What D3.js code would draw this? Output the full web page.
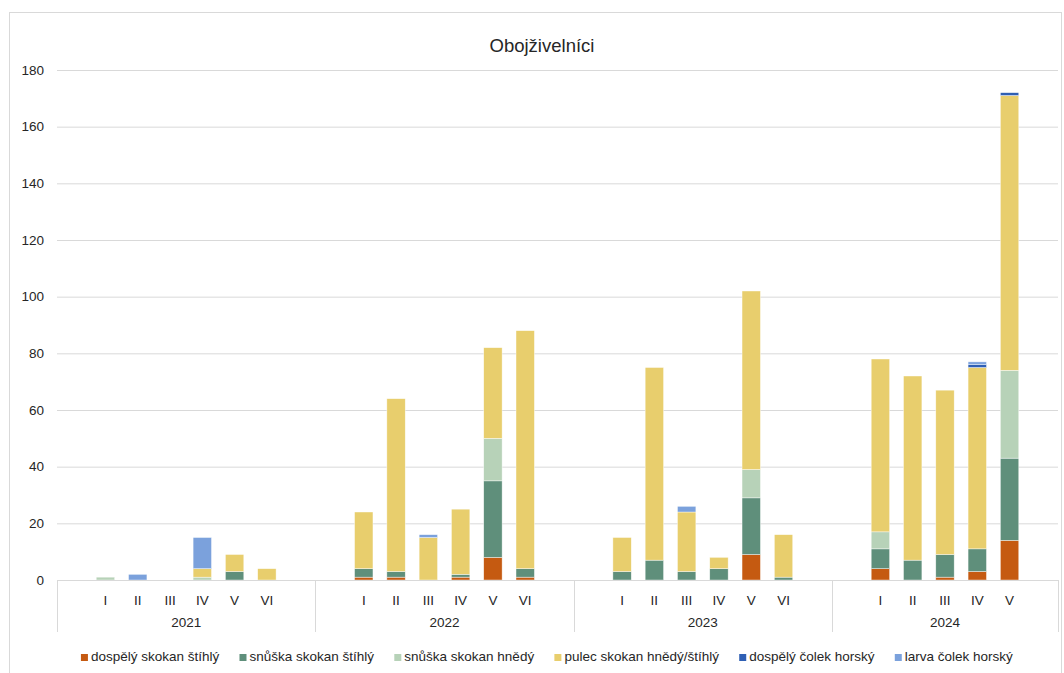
<!DOCTYPE html>
<html>
<head>
<meta charset="utf-8">
<script src="https://cdn.jsdelivr.net/npm/d3@7"></script>
<style>
  html, body { margin: 0; padding: 0; background: #fff; }
  svg { display: block; font-family: "Liberation Sans", Arial, sans-serif; }
  svg text { fill: #262626; }
</style>
</head>
<body>
<svg id="chart" width="1064" height="673"></svg>
<script>
// Survey counts of amphibians per visit (months in Roman numerals) and year
const years = ["2021", "2022", "2023", "2024"];
const months = [
  ["I", "II", "III", "IV", "V", "VI"],
  ["I", "II", "III", "IV", "V", "VI"],
  ["I", "II", "III", "IV", "V", "VI"],
  ["I", "II", "III", "IV", "V"]
];
const yTicks = [0, 20, 40, 60, 80, 100, 120, 140, 160, 180];

const seriesNames = [
  "dospělý skokan štíhlý",
  "snůška skokan štíhlý",
  "snůška skokan hnědý",
  "pulec skokan hnědý/štíhlý",
  "dospělý čolek horský",
  "larva čolek horský"
];
const seriesColors = ["#C55A11", "#5F8F7B", "#B7D2B8", "#E8CE6D", "#2F5FB4", "#7BA1DC"];

// one value per visit, in order 2021 I..VI, 2022 I..VI, 2023 I..VI, 2024 I..V
const dospelySkokanStihly = [0,0,0,0,0,0,  1,1,0,1,8,1,    0,0,0,0,9,0,    4,0,1,3,14];
const snuskaSkokanStihly  = [0,0,0,0,3,0,  3,2,0,1,27,3,   3,7,3,4,20,1,   7,7,8,8,29];
const snuskaSkokanHnedy   = [1,0,0,1,0,0,  0,0,0,0,15,0,   0,0,0,0,10,0,   6,0,0,0,31];
const pulecSkokan         = [0,0,0,3,6,4,  20,61,15,23,32,84, 12,68,21,4,63,15, 61,65,58,64,97];
const dospelyColekHorsky  = [0,0,0,0,0,0,  0,0,0,0,0,0,    0,0,0,0,0,0,    0,0,0,1,1];
const larvaColekHorsky    = [0,2,0,11,0,0, 0,0,1,0,0,0,    0,0,2,0,0,0,    0,0,0,1,0];

const seriesValues = [dospelySkokanStihly, snuskaSkokanStihly, snuskaSkokanHnedy,
                      pulecSkokan, dospelyColekHorsky, larvaColekHorsky];

// Build rows: one per visit, with an empty slot before and after each year group
const rows = [];
const slots = [];
let idx = 0;
years.forEach((yr, yi) => {
  slots.push(yr + "|pre");
  months[yi].forEach(m => {
    const key = yr + "|" + m;
    slots.push(key);
    const row = { key, year: yr, month: m };
    seriesNames.forEach((s, si) => { row[s] = seriesValues[si][idx]; });
    rows.push(row);
    idx++;
  });
  slots.push(yr + "|post");
});

const svg = d3.select("#chart");
const plot = { left: 57, right: 1058, top: 70, bottom: 580 };

// outer chart frame
svg.append("rect")
  .attr("x", 9.5).attr("y", 12.5)
  .attr("width", 1052).attr("height", 668)
  .attr("fill", "#fff").attr("stroke", "#d9d9d9").attr("stroke-width", 1);

// title
svg.append("text")
  .attr("x", 542).attr("y", 52)
  .attr("text-anchor", "middle")
  .attr("font-size", 18.5)
  .text("Obojživelníci");

const x = d3.scaleBand().domain(slots).range([plot.left, plot.right]).paddingInner(0).paddingOuter(0);
const y = d3.scaleLinear().domain([0, 180]).range([plot.bottom, plot.top]);

// gridlines + y labels
const yAxis = d3.axisLeft(y).tickValues(yTicks).tickSize(-(plot.right - plot.left)).tickPadding(13);
const gy = svg.append("g").attr("transform", `translate(${plot.left},0)`).call(yAxis);
gy.select(".domain").remove();
gy.selectAll(".tick line").attr("stroke", "#d9d9d9").attr("stroke-width", 1);
gy.selectAll(".tick text").attr("font-size", 13.5)
  .attr("font-family", "'Liberation Sans', Arial, sans-serif");

// stacked bars
const stack = d3.stack().keys(seriesNames);
const layers = stack(rows);
const barW = x.bandwidth() * 0.57;

svg.append("g").selectAll("g")
  .data(layers)
  .join("g")
  .attr("fill", (d, i) => seriesColors[i])
  .selectAll("rect")
  .data(d => d.filter(p => p[1] - p[0] > 0))
  .join("rect")
  .attr("x", d => x(d.data.key) + (x.bandwidth() - barW) / 2)
  .attr("width", barW)
  .attr("y", d => y(d[1]))
  .attr("height", d => y(d[0]) - y(d[1]))
  .attr("stroke", "#fff").attr("stroke-width", 0.6).attr("stroke-opacity", 0.7);

// category axis: baseline, group separators, month and year labels
const axisG = svg.append("g");
axisG.append("line")
  .attr("x1", plot.left).attr("x2", plot.right)
  .attr("y1", plot.bottom + 0.5).attr("y2", plot.bottom + 0.5)
  .attr("stroke", "#d9d9d9");

const sepY2 = 632;
const boundaries = years.map(yr => x(yr + "|pre"));
boundaries.push(x(years[years.length - 1] + "|post") + x.bandwidth());
axisG.selectAll("line.sep")
  .data(boundaries)
  .join("line")
  .attr("class", "sep")
  .attr("x1", d => Math.round(d) + 0.5).attr("x2", d => Math.round(d) + 0.5)
  .attr("y1", plot.bottom).attr("y2", sepY2)
  .attr("stroke", "#d9d9d9");

axisG.selectAll("text.month")
  .data(rows)
  .join("text")
  .attr("class", "month")
  .attr("x", d => x(d.key) + x.bandwidth() / 2)
  .attr("y", 605)
  .attr("text-anchor", "middle")
  .attr("font-size", 13.5)
  .text(d => d.month);

axisG.selectAll("text.year")
  .data(years)
  .join("text")
  .attr("class", "year")
  .attr("x", (d, i) => (boundaries[i] + boundaries[i + 1]) / 2)
  .attr("y", 627)
  .attr("text-anchor", "middle")
  .attr("font-size", 13.5)
  .text(d => d);

// legend
const legend = svg.append("g").attr("transform", "translate(0,661)");
const items = legend.selectAll("g")
  .data(seriesNames)
  .join("g");
items.append("rect")
  .attr("width", 7).attr("height", 7)
  .attr("y", -7)
  .attr("fill", (d, i) => seriesColors[i]);
items.append("text")
  .attr("x", 10).attr("y", 0)
  .attr("font-size", 13.5)
  .text(d => d);

// lay legend items out in one centred row
const gap = 20;
const widths = [];
items.each(function () { widths.push(this.getBBox().width); });
const total = d3.sum(widths) + gap * (widths.length - 1);
let cx = 547 - total / 2;
items.attr("transform", (d, i) => {
  const t = `translate(${cx},0)`;
  cx += widths[i] + gap;
  return t;
});
</script>
</body>
</html>
